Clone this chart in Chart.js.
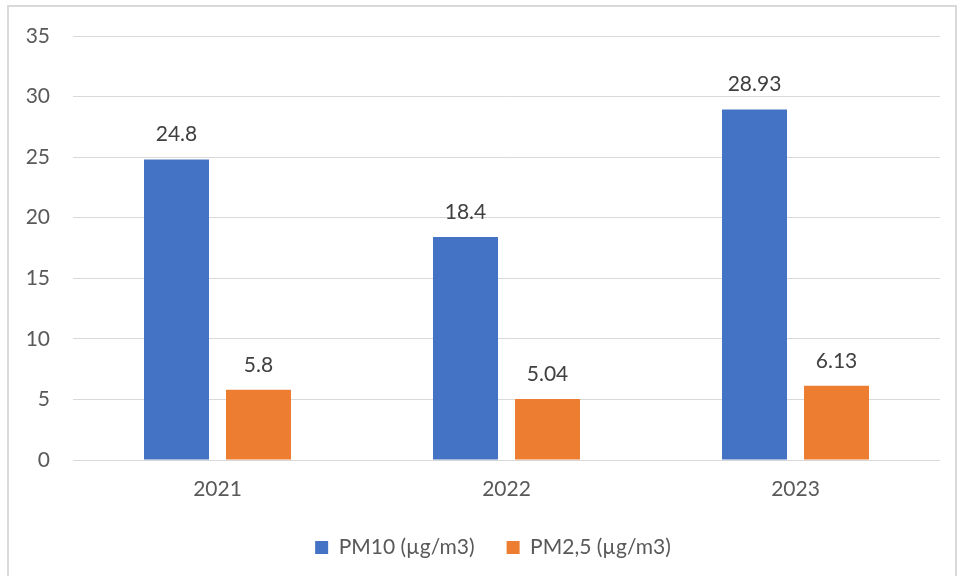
<!DOCTYPE html>
<html>
<head>
<meta charset="utf-8">
<script src="https://cdn.jsdelivr.net/npm/chart.js@4/dist/chart.umd.min.js"></script>
<style>
  html, body { margin: 0; padding: 0; background: #fff; overflow: hidden; }
  #frame { position: absolute; left: 7px; top: 5px; width: 950px; height: 620px; border: 2px solid #d9d9d9; box-sizing: border-box; }
  #wrap { position: absolute; left: 0; top: 0; width: 959px; height: 576px; }
</style>
</head>
<body>
<div id="frame"></div>
<div id="wrap"><canvas id="c" width="959" height="576"></canvas></div>
<script>
const categories = ["2021", "2022", "2023"];
const pm10Values = [24.8, 18.4, 28.93];
const pm25Values = [5.8, 5.04, 6.13];
const seriesNames = ["PM10 (µg/m3)", "PM2,5 (µg/m3)"];
const yTicks = [0, 5, 10, 15, 20, 25, 30, 35];

const FONT = "Lato, 'Liberation Sans', sans-serif";

const dataLabels = {
  id: 'dataLabels',
  afterDatasetsDraw(chart) {
    const ctx = chart.ctx;
    ctx.save();
    ctx.font = "21px " + FONT;
    ctx.fillStyle = '#404040';
    ctx.textAlign = 'center';
    ctx.textBaseline = 'middle';
    chart.data.datasets.forEach((ds, i) => {
      const meta = chart.getDatasetMeta(i);
      meta.data.forEach((bar, j) => {
        ctx.fillText(String(ds.data[j]), bar.x, bar.y - 25);
      });
    });
    ctx.restore();
  }
};

const legendShift = {
  id: 'legendShift',
  afterLayout(chart) {
    if (chart.legend) { chart.legend.left += 23; chart.legend.right += 23; }
  }
};

new Chart(document.getElementById('c'), {
  type: 'bar',
  data: {
    labels: categories,
    datasets: [
      { label: seriesNames[0], data: pm10Values, backgroundColor: '#4472C4', categoryPercentage: 0.5675, barPercentage: 0.7927 },
      { label: seriesNames[1], data: pm25Values, backgroundColor: '#ED7D31', categoryPercentage: 0.5675, barPercentage: 0.7927 }
    ]
  },
  options: {
    responsive: false,
    animation: false,
    devicePixelRatio: 1,
    layout: { padding: { left: 0, right: 19, top: 36, bottom: 8 } },
    plugins: {
      legend: {
        position: 'bottom',
        labels: {
          boxWidth: 13,
          boxHeight: 13,
          padding: 32,
          color: '#595959',
          font: { family: FONT, size: 21 }
        }
      },
      tooltip: { enabled: false }
    },
    scales: {
      x: {
        grid: { display: false, drawTicks: false },
        border: { display: false },
        ticks: { color: '#595959', font: { family: FONT, size: 21 }, padding: 17 },
        afterFit(scale) { scale.height = 45; }
      },
      y: {
        min: 0,
        max: 35,
        afterBuildTicks(scale) { scale.ticks = yTicks.map(v => ({ value: v })); },
        grid: { color: '#d9d9d9', lineWidth: 1, drawTicks: false },
        border: { display: false },
        ticks: { color: '#595959', font: { family: FONT, size: 21 }, padding: 23 },
        afterFit(scale) { scale.width = 73; }
      }
    }
  },
  plugins: [dataLabels, legendShift]
});
</script>
</body>
</html>
